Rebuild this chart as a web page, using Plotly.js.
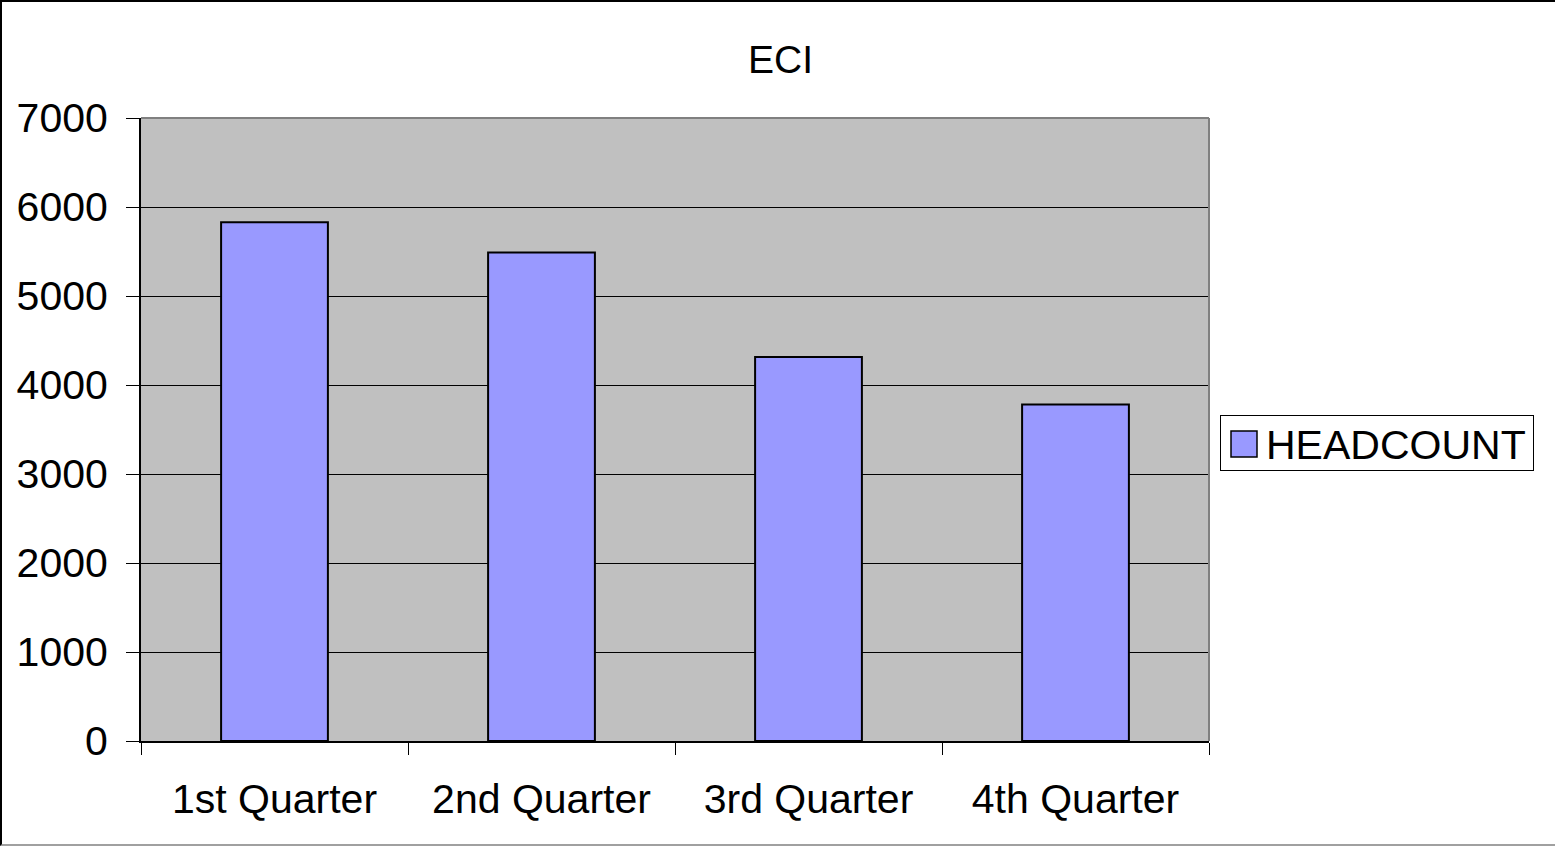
<!DOCTYPE html>
<html>
<head>
<meta charset="utf-8">
<script src="https://cdn.plot.ly/plotly-3.0.1.min.js"></script>
<style>
  html, body { margin: 0; padding: 0; background: #fff; }
  #wrap { position: relative; width: 1555px; height: 846px; }
  #chart { position: absolute; left: 0; top: 0; width: 1555px; height: 846px; }
  #frame { position: absolute; left: 0; top: 0; width: 1555px; height: 846px; box-sizing: border-box;
           border-left: 2px solid #000; border-top: 2px solid #000; border-bottom: 2px solid #a0a0a0;
           pointer-events: none; }
</style>
</head>
<body>
<div id="wrap">
  <div id="chart"></div>
  <div id="frame"></div>
</div>
<script>
const categories = ["1st Quarter", "2nd Quarter", "3rd Quarter", "4th Quarter"];
const headcount = [5830, 5490, 4315, 3780];
const seriesName = "HEADCOUNT";
const chartTitle = "ECI";
const yTickValues = [0, 1000, 2000, 3000, 4000, 5000, 6000, 7000];

const FONT = "Liberation Sans, Arial, sans-serif";

const trace = {
  type: "bar",
  x: categories,
  y: headcount,
  name: seriesName,
  marker: { color: "#9999ff", line: { color: "#000000", width: 2 } },
  showlegend: true,
  hoverinfo: "x+y"
};

const layout = {
  width: 1555,
  height: 846,
  paper_bgcolor: "#ffffff",
  plot_bgcolor: "#c0c0c0",
  margin: { l: 141, r: 346, t: 118, b: 105, pad: 0 },
  title: {
    text: chartTitle,
    font: { family: FONT, size: 39, color: "#000" },
    xref: "container", x: 0.502, xanchor: "center",
    yref: "container", y: 1 - 59 / 846, yanchor: "middle"
  },
  bargap: 0.6,
  xaxis: {
    type: "category",
    tickson: "boundaries",
    ticks: "outside",
    ticklen: 12,
    tickwidth: 1,
    tickcolor: "#000",
    showline: true,
    linecolor: "#000",
    linewidth: 2,
    showgrid: false,
    zeroline: false,
    tickfont: { family: FONT, size: 41, color: "#000" },
    ticklabelstandoff: 21
  },
  yaxis: {
    range: [0, 7000],
    tickvals: yTickValues,
    ticktext: yTickValues.map(String),
    ticks: "outside",
    ticklen: 13,
    tickwidth: 1,
    tickcolor: "#000",
    showline: true,
    linecolor: "#000",
    linewidth: 2,
    showgrid: true,
    gridcolor: "#000",
    gridwidth: 1,
    zeroline: false,
    tickfont: { family: FONT, size: 41, color: "#000" },
    ticklabelstandoff: 10
  },
  shapes: [
    { type: "line", xref: "paper", yref: "paper", x0: 0, x1: 1, y0: 1, y1: 1,
      line: { color: "#808080", width: 2 } },
    { type: "line", xref: "paper", yref: "paper", x0: 1, x1: 1, y0: 0, y1: 1,
      line: { color: "#808080", width: 2 } }
  ],
  legend: {
    x: (1220 - 141) / 1068,
    xanchor: "left",
    y: (741 - 443) / 623,
    yanchor: "middle",
    bgcolor: "#ffffff",
    bordercolor: "#000",
    borderwidth: 1,
    font: { family: FONT, size: 41, color: "#000" },
    itemwidth: 35
  },
  showlegend: true
};

function toLocal(el, x, y) {
  const svg = el.ownerSVGElement;
  const pt = svg.createSVGPoint();
  pt.x = x; pt.y = y;
  return pt.matrixTransform(el.getScreenCTM().inverse());
}

Plotly.newPlot("chart", [trace], layout, { displayModeBar: false, staticPlot: true }).then(function () {
  // Enlarge the legend swatch to the reference's square symbol
  document.querySelectorAll("#chart .legend .legendpoints path").forEach(function (p) {
    p.removeAttribute("transform");
    const c = toLocal(p, 1244, 444);
    const h = 13;
    p.setAttribute("d", "M" + (c.x + h) + "," + (c.y + h) + "H" + (c.x - h) + "V" + (c.y - h) + "H" + (c.x + h) + "Z");
    p.style.strokeWidth = "1.5px";
    p.style.stroke = "#000";
  });
  // Fit the legend box to the reference box
  const bg = document.querySelector("#chart .legend rect.bg");
  if (bg) {
    const a = toLocal(bg, 1220.5, 415.5);
    const b = toLocal(bg, 1533.5, 470.5);
    bg.setAttribute("x", a.x);
    bg.setAttribute("y", a.y);
    bg.setAttribute("width", b.x - a.x);
    bg.setAttribute("height", b.y - a.y);
  }
});
</script>
</body>
</html>
